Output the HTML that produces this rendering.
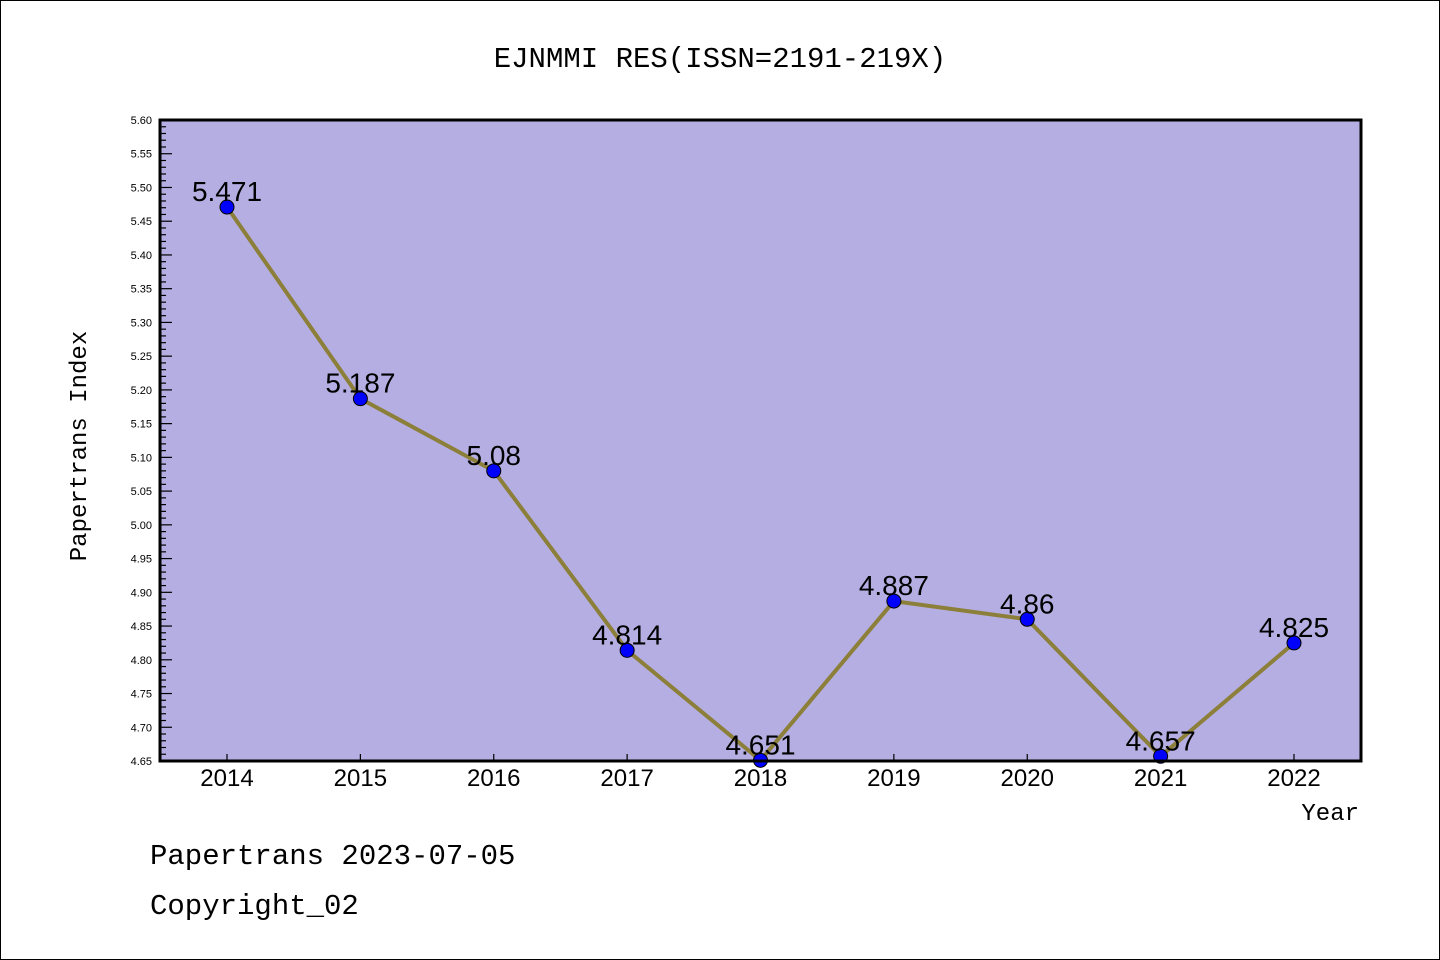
<!DOCTYPE html>
<html><head><meta charset="utf-8"><style>
body{margin:0;background:#fff}
svg{display:block;font-family:"Liberation Sans","WenQuanYi Zen Hei",sans-serif}
</style></head><body>
<svg id="chart" width="1440" height="960" viewBox="0 0 1440 960">
<rect x="0.5" y="0.5" width="1439" height="959" fill="#fff" stroke="#000"/>
<text x="720" y="67" text-anchor="middle" font-size="29" font-family="'WenQuanYi Zen Hei','Liberation Mono',monospace">EJNMMI RES(ISSN=2191-219X)</text>
<rect x="160" y="120" width="1201" height="641" fill="#b5aee2"/>
<g id="ticks"></g>
<g id="series"></g>
<rect x="160" y="120" width="1201" height="641" fill="none" stroke="#000" stroke-width="3"/>
<text x="86" y="446" transform="rotate(-90 86 446)" text-anchor="middle" font-size="24" font-family="'WenQuanYi Zen Hei','Liberation Mono',monospace">Papertrans Index</text>
<text x="1359" y="820" text-anchor="end" font-size="24" font-family="'WenQuanYi Zen Hei','Liberation Mono',monospace">Year</text>
<text x="150" y="864" font-size="29" font-family="'WenQuanYi Zen Hei','Liberation Mono',monospace">Papertrans 2023-07-05</text>
<text x="150" y="914" font-size="29" font-family="'WenQuanYi Zen Hei','Liberation Mono',monospace">Copyright_02</text>
</svg>
<script>
const years = ["2014","2015","2016","2017","2018","2019","2020","2021","2022"];
const values = [5.471,5.187,5.08,4.814,4.651,4.887,4.86,4.657,4.825];
const labels = ["5.471","5.187","5.08","4.814","4.651","4.887","4.86","4.657","4.825"];
const yTicks = ["4.65","4.70","4.75","4.80","4.85","4.90","4.95","5.00","5.05","5.10","5.15","5.20","5.25","5.30","5.35","5.40","5.45","5.50","5.55","5.60"];
const yMin=4.65,yMax=5.60,plotTop=120,plotBot=761,plotLeft=160;
const NS="http://www.w3.org/2000/svg";
function yPos(v){return plotBot-(v-yMin)/(yMax-yMin)*(plotBot-plotTop);}
function xPos(i){return 227+i*(1294-227)/(years.length-1);}
const tk=document.getElementById('ticks'), se=document.getElementById('series');
function mk(tag,attrs,parent){const e=document.createElementNS(NS,tag);for(const k in attrs)e.setAttribute(k,attrs[k]);parent.appendChild(e);return e;}
for(let k=0;k<=95;k++){
  const v=yMin+k*0.01;const yy=yPos(v);const major=k%5===0;
  const l=mk('line',{x1:plotLeft,x2:plotLeft+(major?12:6),y1:yy,y2:yy,stroke:'#000','stroke-width':1.2},tk);
  
  
}
yTicks.forEach(t=>{
  const e=mk('text',{x:152,y:yPos(parseFloat(t))+4,'text-anchor':'end','font-size':11},tk);
  e.textContent=t;
  
  
});
years.forEach((yr,i)=>{
  const l=mk('line',{x1:xPos(i),x2:xPos(i),y1:plotBot,y2:plotBot-7,stroke:'#000','stroke-width':1.2},tk);
  
  
  const e=mk('text',{x:xPos(i),y:786,'text-anchor':'middle','font-size':24},tk);
  e.textContent=yr;
  
  
});
const pl=mk('polyline',{points:values.map((v,i)=>xPos(i)+','+yPos(v)).join(' '),fill:'none',stroke:'#8c7f3a','stroke-width':4},se);


values.forEach((v,i)=>{
  const c=mk('circle',{cx:xPos(i),cy:yPos(v),r:7,fill:'#0000ff',stroke:'#000','stroke-width':1},se);
  
  
});
values.forEach((v,i)=>{
  const t=mk('text',{x:xPos(i),y:yPos(v)-6,'text-anchor':'middle','font-size':28},se);
  t.textContent=labels[i];
  
  
});
</script>
</body></html>
